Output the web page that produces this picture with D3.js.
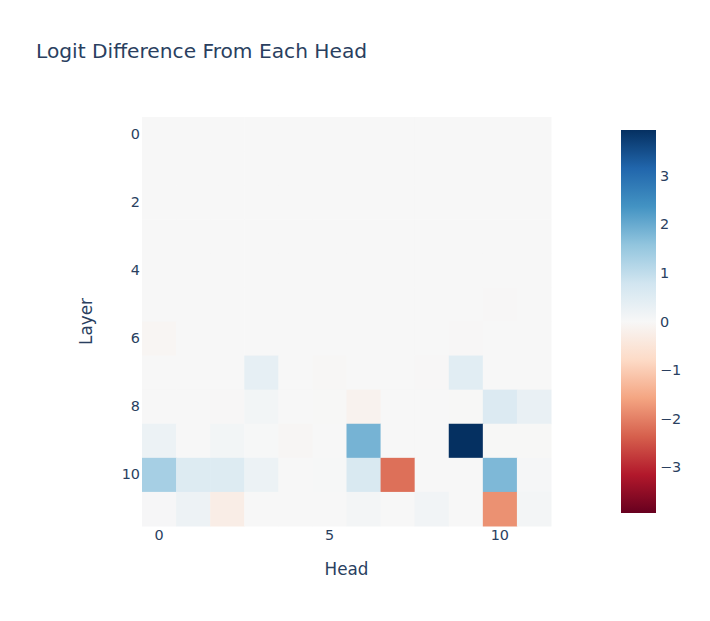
<!DOCTYPE html>
<html>
<head>
<meta charset="utf-8">
<script src="https://cdn.jsdelivr.net/npm/d3@7"></script>
<style>
  body { margin: 0; background: #fff; }
  text { font-family: "DejaVu Sans", Verdana, sans-serif; fill: #2a3f5f; }
</style>
</head>
<body>
<div id="chart"></div>
<script>
// heads along x, layers along y
var heads = d3.range(12);
var layers = d3.range(12);
var xTicks = [0, 5, 10];
var yTicks = [0, 2, 4, 6, 8, 10];
var cbTicks = [-3, -2, -1, 0, 1, 2, 3];
var zMax = 3.94;

// logit difference per layer (row) and head (column)
var row0 = [0, 0, 0, 0, 0, 0, 0, 0, 0, 0, 0, 0];
var row1 = [0, 0, 0, 0, 0, 0, 0, 0, 0, 0, 0, 0];
var row2 = [0, 0, 0, 0, 0, 0, 0, 0, 0, 0, 0, 0];
var row3 = [0, 0, 0, 0, 0, 0, 0, 0, 0, 0, 0, 0];
var row4 = [0, 0, 0, 0, 0, 0, 0, 0, 0, 0, 0, 0];
var row5 = [0, 0, 0, 0, 0, 0, 0, 0, 0, 0, -0.015, 0];
var row6 = [-0.07, 0, 0, 0, 0, 0, 0.01, 0, 0, -0.02, 0, 0];
var row7 = [0, 0, 0, 0.35, 0, -0.04, 0, 0, -0.02, 0.45, 0, 0];
var row8 = [0, 0, -0.02, 0.1, 0, -0.01, -0.15, 0, 0.01, -0.01, 0.55, 0.3];
var row9 = [0.23, 0, 0.1, 0.02, -0.05, 0, 1.86, 0, 0, 3.94, -0.01, -0.01];
var row10 = [1.32, 0.54, 0.54, 0.23, 0, 0.02, 0.62, -2.18, 0, 0, 1.78, 0.05];
var row11 = [0.03, 0.2, -0.28, 0, 0, 0, 0.08, 0, 0.12, 0, -1.81, 0.08];
var values = [row0, row1, row2, row3, row4, row5, row6, row7, row8, row9, row10, row11];

var rdbu = ['rgb(103,0,31)', 'rgb(178,24,43)', 'rgb(214,96,77)', 'rgb(244,165,130)',
  'rgb(253,219,199)', 'rgb(247,247,247)', 'rgb(209,229,240)', 'rgb(146,197,222)',
  'rgb(67,147,195)', 'rgb(33,102,172)', 'rgb(5,48,97)'];

var width = 710, height = 621;
var plot = { left: 142, top: 117, size: 409 };
var cb = { left: 621, top: 130, width: 35, height: 383 };
var font = '"DejaVu Sans", Verdana, sans-serif';

var svg = d3.select('#chart').append('svg')
  .attr('width', width)
  .attr('height', height);

var color = d3.scaleLinear()
  .domain(rdbu.map((c, i) => -zMax + i * 2 * zMax / 10))
  .range(rdbu)
  .interpolate(d3.interpolateRgb)
  .clamp(true);

var x = d3.scaleBand().domain(heads).range([plot.left, plot.left + plot.size]);
var y = d3.scaleBand().domain(layers).range([plot.top, plot.top + plot.size]);

// cells
var cells = [];
values.forEach((row, li) => row.forEach((v, hi) => cells.push({ layer: li, head: hi, v: v })));

svg.append('g').selectAll('rect')
  .data(cells)
  .enter()
  .append('rect')
  .attr('x', d => x(d.head))
  .attr('y', d => y(d.layer))
  .attr('width', x.bandwidth() + 0.5)
  .attr('height', y.bandwidth() + 0.5)
  .attr('fill', d => color(d.v));

// axes (labels only, no lines)
var xAxis = svg.append('g')
  .attr('transform', 'translate(0,' + (plot.top + plot.size) + ')')
  .call(d3.axisBottom(x).tickValues(xTicks).tickSize(0).tickPadding(4));
var yAxis = svg.append('g')
  .attr('transform', 'translate(' + plot.left + ',0)')
  .call(d3.axisLeft(y).tickValues(yTicks).tickSize(0).tickPadding(2));
[xAxis, yAxis].forEach(a => {
  a.select('.domain').remove();
  a.selectAll('text').style('font-size', '14.4px').attr('fill', '#2a3f5f')
    .style('font-family', font);
});

// titles
svg.append('text')
  .attr('x', 36).attr('y', 58)
  .style('font-size', '20.2px')
  .text('Logit Difference From Each Head');

svg.append('text')
  .attr('x', plot.left + plot.size / 2).attr('y', 575)
  .attr('text-anchor', 'middle')
  .style('font-size', '16.8px')
  .text('Head');

svg.append('text')
  .attr('transform', 'translate(92,' + (plot.top + plot.size / 2) + ') rotate(-90)')
  .attr('text-anchor', 'middle')
  .style('font-size', '16.8px')
  .text('Layer');

// colorbar
var grad = svg.append('defs').append('linearGradient')
  .attr('id', 'cbGrad')
  .attr('x1', 0).attr('y1', 1).attr('x2', 0).attr('y2', 0);
grad.selectAll('stop')
  .data(rdbu)
  .enter()
  .append('stop')
  .attr('offset', (d, i) => i / 10)
  .attr('stop-color', d => d);

svg.append('rect')
  .attr('x', cb.left).attr('y', cb.top)
  .attr('width', cb.width).attr('height', cb.height)
  .attr('fill', 'url(#cbGrad)');

var cbScale = d3.scaleLinear().domain([-zMax, zMax]).range([cb.top + cb.height, cb.top]);
var cbAxis = svg.append('g')
  .attr('transform', 'translate(' + (cb.left + cb.width) + ',0)')
  .call(d3.axisRight(cbScale).tickValues(cbTicks).tickSize(0).tickPadding(4)
    .tickFormat(d => d < 0 ? '\u2212' + Math.abs(d) : d));
cbAxis.select('.domain').remove();
cbAxis.selectAll('text').style('font-size', '14.4px').attr('fill', '#2a3f5f')
  .style('font-family', font);
</script>
</body>
</html>
